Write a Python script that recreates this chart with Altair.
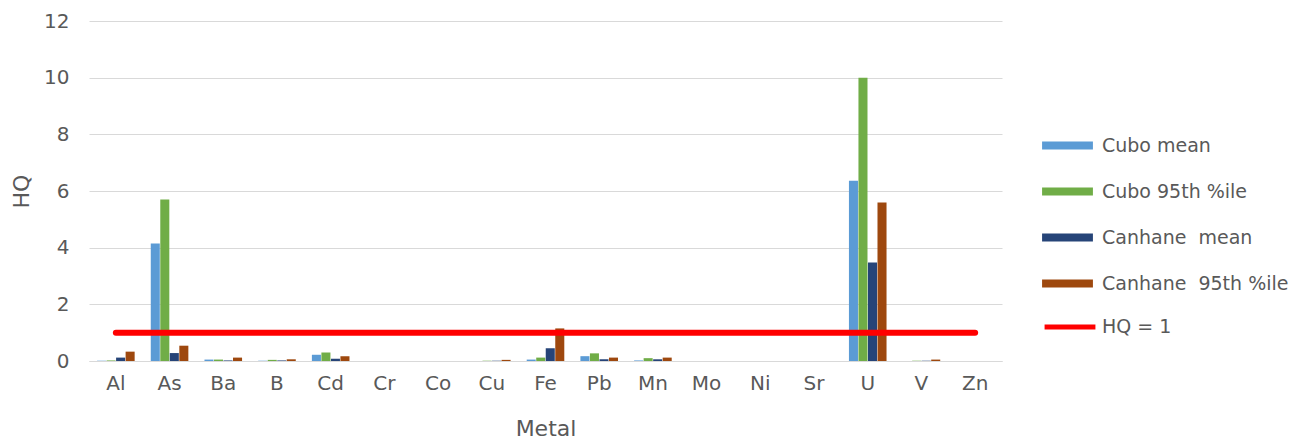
import altair as alt
import pandas as pd

metals = ["Al", "As", "Ba", "B", "Cd", "Cr", "Co", "Cu", "Fe", "Pb", "Mn", "Mo", "Ni", "Sr", "U", "V", "Zn"]
series = ["Cubo mean", "Cubo 95th %ile", "Canhane\u00a0 mean", "Canhane\u00a0 95th %ile"]
cubo_mean = [0.01, 4.15, 0.05, 0.01, 0.22, 0.0, 0.0, 0.0, 0.05, 0.17, 0.02, 0.0, 0.0, 0.0, 6.36, 0.0, 0.0]
cubo_p95 = [0.02, 5.7, 0.05, 0.04, 0.3, 0.0, 0.0, 0.01, 0.12, 0.27, 0.1, 0.0, 0.0, 0.0, 10.0, 0.01, 0.0]
canhane_mean = [0.12, 0.28, 0.02, 0.02, 0.08, 0.0, 0.0, 0.01, 0.45, 0.06, 0.06, 0.0, 0.0, 0.0, 3.48, 0.01, 0.0]
canhane_p95 = [0.33, 0.54, 0.12, 0.06, 0.17, 0.0, 0.0, 0.04, 1.15, 0.12, 0.12, 0.0, 0.0, 0.0, 5.59, 0.05, 0.0]
colors = ["#5B9BD5", "#70AD47", "#264478", "#9E480E"]
hq_label = "HQ = 1"
hq_value = 1
y_ticks = [0, 2, 4, 6, 8, 10, 12]

rows = []
for name, vals in zip(series, [cubo_mean, cubo_p95, canhane_mean, canhane_p95]):
    for m, v in zip(metals, vals):
        rows.append({"Metal": m, "Series": name, "HQ": v})
bars_df = pd.DataFrame(rows)
line_df = pd.DataFrame({"Metal": metals, "HQ": [hq_value] * len(metals), "Label": [hq_label] * len(metals)})

FONT = "DejaVu Sans"
TXT = "#595959"
GRID = "#D9D9D9"

x_enc = alt.X("Metal:N", sort=metals,
              scale=alt.Scale(paddingInner=0.3, paddingOuter=0.15),
              axis=alt.Axis(title="Metal", labelAngle=0, ticks=False, tickSize=0,
                            labelPadding=12, titlePadding=25, domainColor=GRID,
                            labelFontSize=20, titleFontSize=22, titleFontWeight="normal"))
y_enc = alt.Y("HQ:Q", scale=alt.Scale(domain=[0, 12], nice=False),
              axis=alt.Axis(title="HQ", values=y_ticks, ticks=False, tickSize=0, domain=False,
                            labelPadding=20, titlePadding=10, gridColor=GRID,
                            labelFontSize=20, titleFontSize=22, titleFontWeight="normal"))

bars = alt.Chart(bars_df).mark_bar().encode(
    x=x_enc,
    xOffset=alt.XOffset("Series:N", sort=series, scale=alt.Scale(paddingInner=0.05)),
    y=y_enc,
    color=alt.Color("Series:N", sort=series,
                    scale=alt.Scale(domain=series, range=colors),
                    legend=alt.Legend(title=None, orient="none", legendX=956, legendY=102,
                                      symbolType="M-1.13,-0.18L1.13,-0.18L1.13,0.18L-1.13,0.18Z",
                                      symbolSize=2025, symbolStrokeWidth=0, rowPadding=13,
                                      padding=0, labelOffset=12, labelFontSize=19,
                                      labelLimit=300)),
)

line = alt.Chart(line_df).mark_line(strokeWidth=6, strokeCap="round").encode(
    x=alt.X("Metal:N", sort=metals),
    y=alt.Y("HQ:Q"),
    color=alt.Color("Label:N", scale=alt.Scale(domain=[hq_label], range=["#FF0000"]),
                    legend=alt.Legend(title=None, orient="none", legendX=956, legendY=281,
                                      symbolType="M-1.13,0L1.13,0", symbolSize=2025,
                                      symbolStrokeWidth=5, padding=0, labelOffset=7,
                                      labelFontSize=19, labelLimit=300)),
)

chart = alt.layer(bars, line).resolve_scale(color="independent").properties(
    width=913, height=340,
    autosize=alt.AutoSizeParams(type="none"),
    padding={"left": 81, "top": 13, "right": 295, "bottom": 80},
).configure(font=FONT).configure_view(stroke=None).configure_axis(
    labelColor=TXT, titleColor=TXT, labelFont=FONT, titleFont=FONT,
).configure_legend(labelColor=TXT, labelFont=FONT)

chart.save("out.html", embed_options={"renderer": "svg", "actions": False})
